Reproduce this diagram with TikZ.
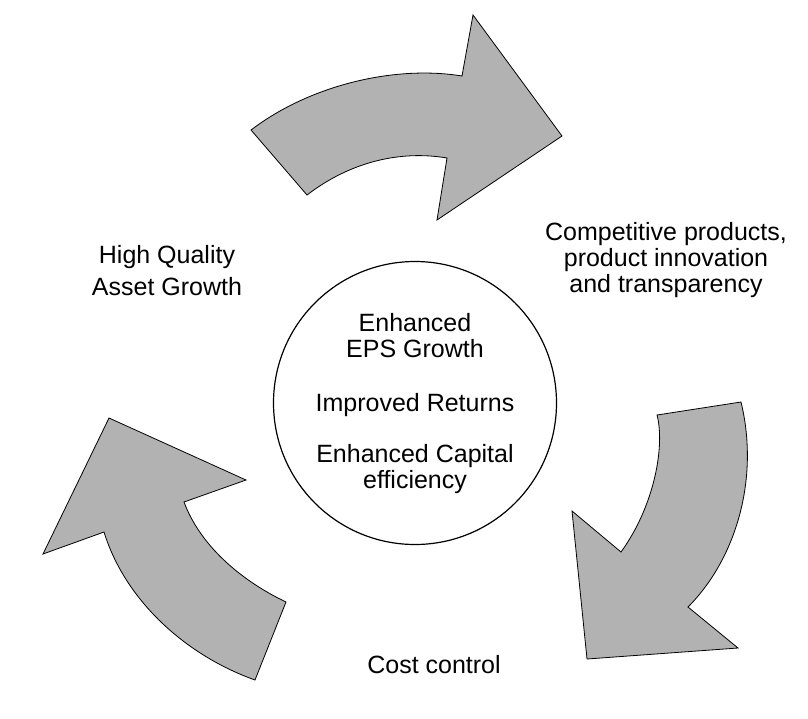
\documentclass[tikz,border=0pt]{standalone}
\usepackage{fontspec}
\setmainfont{Liberation Sans}
\usetikzlibrary{positioning}
\definecolor{arrowgray}{RGB}{178,178,178}

\begin{document}
\begin{tikzpicture}[x=1pt, y=-1pt, thin,
    bigarrow/.style={draw=black, fill=arrowgray, line width=0.8pt, line join=miter},
    txt/.style={align=center, inner sep=0pt, font=\fontsize{25}{26}\selectfont}]
      \useasboundingbox (0,0) rectangle (808,718);
      % centre
      \node[draw, circle, line width=1.2pt, minimum size=283pt, inner sep=0pt] (hub) at (415,403) {};
      \node[txt, anchor=base] (eps) at (415,357.3) {Enhanced\\EPS Growth};
      \node[txt, anchor=base] (ret) at (415,411.7) {Improved Returns};
      \node[txt, anchor=base] (cap) at (415,488) {Enhanced Capital\\efficiency};
      % outer labels
      \node[txt, anchor=base] (prod) at (666,292.7) {Competitive products,\\product innovation\\and transparency};
      \node[txt, anchor=base, font=\fontsize{25}{31.7}\selectfont] (asset) at (167,295) {High Quality\\Asset Growth};
      \node[txt, anchor=base] (cost) at (434,673) {Cost control};
      % top arrow
      \filldraw[bigarrow] (251,130) .. controls (310,85) and (395,65) .. (462,76)
        -- (473,15) -- (562,136) -- (437,220) -- (447,158)
        .. controls (400,150) and (350,162) .. (307,195) -- cycle;
      % right arrow
      \filldraw[bigarrow] (741,402) -- (657,415)
        .. controls (665,445) and (655,505) .. (621,552)
        -- (572,511) -- (587,659) -- (738,648) -- (688,607)
        .. controls (735,560) and (760,480) .. (741,402) -- cycle;
      % left arrow
      \filldraw[bigarrow] (255,680) -- (286,602)
        .. controls (240,580) and (200,545) .. (184,502)
        -- (246,480) -- (109,418) -- (43,554) -- (104,532)
        .. controls (125,600) and (185,655) .. (255,680) -- cycle;
    \end{tikzpicture}
\end{document}
